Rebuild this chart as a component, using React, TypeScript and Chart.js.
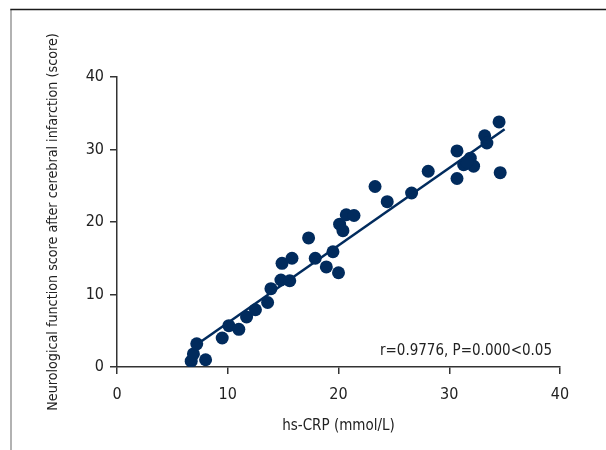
import React, { useEffect, useRef } from "react";
import { Chart, registerables } from "chart.js";

Chart.register(...registerables);

const crpValues = [
  6.7, 6.9, 7.2, 8.0, 9.5, 10.1, 11.0, 11.7, 12.5, 13.6, 13.9, 14.8, 15.6, 14.9, 15.8,
  17.3, 17.9, 18.9, 19.5, 20.0, 20.1, 20.4, 20.7, 21.4, 23.3, 24.4, 26.6, 28.1, 30.7,
  30.7, 31.3, 31.9, 32.2, 33.2, 33.4, 34.5, 34.6, 31.6,
];
const scoreValues = [
  0.8, 1.8, 3.2, 1.0, 4.0, 5.7, 5.2, 6.9, 7.9, 8.9, 10.8, 12.0, 11.9, 14.3, 15.0,
  17.8, 15.0, 13.8, 15.9, 13.0, 19.7, 18.8, 21.0, 20.9, 24.9, 22.8, 24.0, 27.0, 29.8,
  26.0, 27.9, 28.8, 27.7, 31.9, 30.9, 33.8, 26.8, 28.3,
];
const fitX = [7.4, 35.0];
const fitY = [3.3, 32.8];
const axisTicks = [0, 10, 20, 30, 40];
const xTitle = "hs-CRP (mmol/L)";
const yTitle = "Neurological function score after cerebral infarction (score)";
const statText = "r=0.9776, P=0.000<0.05";

const NAVY = "#012b5d";
const AXIS = "#333333";
const TEXT = "#222222";
const FONT = "'DejaVu Sans Condensed', 'Liberation Sans Narrow', sans-serif";

export default function App() {
  const ref = useRef<HTMLCanvasElement | null>(null);

  useEffect(() => {
    if (!ref.current) return;
    const framePlugin = {
      id: "frame",
      beforeDraw(chart: any) {
        const ctx = chart.ctx;
        ctx.save();
        ctx.fillStyle = "#ffffff";
        ctx.fillRect(0, 0, chart.width, chart.height);
        ctx.lineWidth = 1.5;
        ctx.strokeStyle = "#999999";
        ctx.beginPath();
        ctx.moveTo(11, 10);
        ctx.lineTo(11, chart.height);
        ctx.stroke();
        ctx.strokeStyle = "#1a1a1a";
        ctx.beginPath();
        ctx.moveTo(10.25, 9.5);
        ctx.lineTo(chart.width, 9.5);
        ctx.stroke();
        ctx.restore();
      },
      afterDraw(chart: any) {
        const ctx = chart.ctx;
        const a = chart.chartArea;
        ctx.save();
        ctx.font = `15px ${FONT}`;
        ctx.fillStyle = TEXT;
        ctx.textAlign = "right";
        ctx.textBaseline = "middle";
        ctx.fillText(statText, a.right - 8, a.bottom - 16);
        ctx.restore();
      },
    };

    const chart = new Chart(ref.current, {
      type: "scatter",
      data: {
        datasets: [
          {
            type: "line",
            data: fitX.map((x, i) => ({ x, y: fitY[i] })),
            borderColor: NAVY,
            borderWidth: 2.5,
            pointRadius: 0,
            fill: false,
          } as any,
          {
            data: crpValues.map((x, i) => ({ x, y: scoreValues[i] })),
            backgroundColor: NAVY,
            borderColor: NAVY,
            pointRadius: 6.5,
            borderWidth: 0,
          },
        ],
      },
      options: {
        animation: false,
        responsive: false,
        maintainAspectRatio: false,
        layout: { padding: { left: 45, top: 77, right: 46, bottom: 15 } },
        plugins: { legend: { display: false }, tooltip: { enabled: false } },
        scales: {
          x: {
            type: "linear",
            min: 0,
            max: 40,
            afterBuildTicks: (s: any) => {
              s.ticks = axisTicks.map((v) => ({ value: v }));
            },
            afterFit: (s: any) => {
              s.height = 68;
            },
            grid: { drawOnChartArea: false, tickLength: 7, color: AXIS, lineWidth: 1.5 },
            border: { display: true, color: AXIS, width: 1.5 },
            ticks: { color: TEXT, font: { family: FONT, size: 16 }, padding: 11, maxRotation: 0 },
            title: { display: true, text: xTitle, color: TEXT, font: { family: FONT, size: 15 }, padding: 0 },
          },
          y: {
            type: "linear",
            min: 0,
            max: 40,
            afterBuildTicks: (s: any) => {
              s.ticks = axisTicks.map((v) => ({ value: v }));
            },
            afterFit: (s: any) => {
              s.width = 72;
            },
            grid: { drawOnChartArea: false, tickLength: 7, color: AXIS, lineWidth: 1.5 },
            border: { display: true, color: AXIS, width: 1.5 },
            ticks: { color: TEXT, font: { family: FONT, size: 16 }, padding: 6 },
            title: { display: true, text: yTitle, color: TEXT, font: { family: FONT, size: 14.2 }, padding: 0 },
          },
        },
      },
      plugins: [framePlugin],
    });
    return () => chart.destroy();
  }, []);

  return (
    <div style={{ position: "absolute", left: 0, top: 0, width: 606, height: 450, background: "#fff" }}>
      <canvas ref={ref} width={606} height={450} style={{ display: "block", width: 606, height: 450 }} />
    </div>
  );
}
